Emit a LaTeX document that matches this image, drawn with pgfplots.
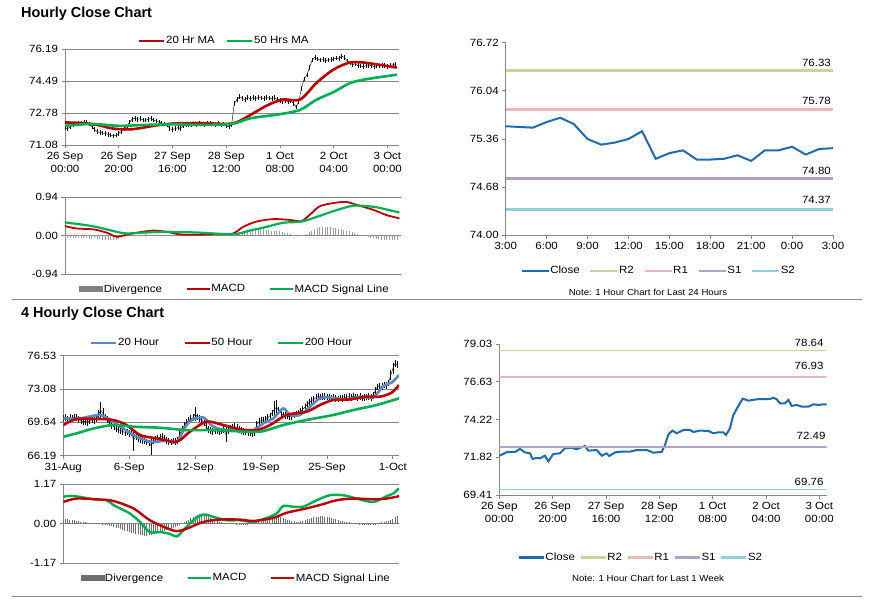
\documentclass[border=0pt]{standalone}
\usepackage{fontspec}
\setmainfont{Liberation Sans}[FakeStretch=1.1]
\newfontfamily\titlefont{Liberation Sans}
\usepackage{pgfplots}
\pgfplotsset{compat=1.18}

\definecolor{axgray}{HTML}{868686}
\definecolor{mared}{HTML}{C00000}
\definecolor{magreen}{HTML}{00B050}
\definecolor{mablue}{HTML}{5A8AC6}
\definecolor{closeblue}{HTML}{1F6BB0}
\definecolor{rtwo}{HTML}{C3D69B}
\definecolor{rone}{HTML}{E6B9B8}
\definecolor{sone}{HTML}{B3A2C7}
\definecolor{stwo}{HTML}{93CDDD}
\definecolor{divlight}{HTML}{A0A0A0}
\definecolor{divdark}{HTML}{6E6E6E}

\newcommand\tk{\fontsize{10.5}{13}\selectfont}
\newcommand\nt{\fontsize{8.8}{10}\selectfont}

\pgfplotsset{
  panel/.style={
    scale only axis, anchor=south west, clip mode=individual,
    axis x line*=bottom, axis y line*=left,
    xtick pos=left, ytick pos=left,
    axis line style={axgray, line width=0.8bp},
    every tick/.style={axgray, line width=0.8bp},
    tick align=outside, major tick length=3.5bp,
    grid style={axgray, line width=0.7bp},
    ticklabel style={font=\tk},
    xticklabel style={align=center},
    legend style={draw=none, fill=none, font=\tk, inner sep=0pt, anchor=center,
      nodes={inner xsep=0.5bp, inner ysep=1bp}},
    legend columns=-1,
    legend cell align=left,
  },
  lineleg/.style={legend image code/.code={\draw[##1, line width=2.4bp] (0bp,0bp) -- (#1,0bp);}},
  colsep/.style={legend style={/tikz/every even column/.append style={column sep=#1}}},
}

\begin{document}
\begin{tikzpicture}
\useasboundingbox (0,0) rectangle (873bp,601bp);

% titles and separators
\node[anchor=base west, inner sep=0pt, font=\titlefont\fontsize{14.5}{16}\selectfont\bfseries] at (21bp,583.5bp) {Hourly Close Chart};
\node[anchor=base west, inner sep=0pt, font=\titlefont\fontsize{14.5}{16}\selectfont\bfseries] at (21bp,283.3bp) {4 Hourly Close Chart};
\draw[axgray, line width=1bp] (12bp,301bp) -- (862bp,301bp);
\draw[axgray, line width=1bp] (12bp,4bp) -- (862bp,4bp);

% ---------- hourly close, 20/50 MA ----------
\begin{axis}[panel, at={(65bp,456bp)}, width=334bp, height=96bp,
  xmin=0, xmax=124.3, ymin=71.08, ymax=76.19,
  xtick={0,20,...,120},
  xticklabels={{26 Sep\\00:00},{26 Sep\\20:00},{27 Sep\\16:00},{28 Sep\\12:00},{1 Oct\\08:00},{2 Oct\\04:00},{3 Oct\\00:00}},
  ytick={71.08,72.78,74.49,76.19}, yticklabels={71.08,72.78,74.49,76.19},
  ymajorgrids,
  lineleg=25bp, colsep=11bp,
  legend style={at={(0.475,1.083)}},
]
\addplot[black, line width=0.4bp, forget plot,
  error bars/.cd, y dir=both, y fixed=0.12, error mark=none,
  error bar style={black, line width=0.6bp}] coordinates {
(0,72.00) (1,71.95) (2,72.05) (3,72.15) (4,72.20) (5,72.25) (6,72.22) (7,72.28) (8,72.30) (9,72.20)
(10,72.05) (11,71.90) (12,71.80) (13,71.75) (14,71.72) (15,71.70) (16,71.65) (17,71.60) (18,71.55) (19,71.60)
(20,71.70) (21,71.80) (22,71.95) (23,72.05) (24,72.30) (25,72.45) (26,72.50) (27,72.45) (28,72.48) (29,72.42)
(30,72.40) (31,72.45) (32,72.50) (33,72.40) (34,72.35) (35,72.30) (36,72.25) (37,72.20) (38,72.15) (39,71.95)
(40,71.90) (41,71.95) (42,72.00) (43,71.95) (44,72.10) (45,72.15) (46,72.18) (47,72.15) (48,72.20) (49,72.18)
(50,72.22) (51,72.20) (52,72.15) (53,72.22) (54,72.25) (55,72.20) (56,72.18) (57,72.22) (58,72.15) (59,72.20)
(60,72.10) (61,72.05) (62,72.15) (63,73.30) (64,73.50) (65,73.65) (66,73.55) (67,73.50) (68,73.60) (69,73.55)
(70,73.60) (71,73.55) (72,73.62) (73,73.58) (74,73.55) (75,73.60) (76,73.58) (77,73.55) (78,73.60) (79,73.50)
(80,73.45) (81,73.40) (82,73.45) (83,73.38) (84,73.42) (85,73.30) (86,73.10) (87,73.40) (88,74.10) (89,74.60)
(90,74.80) (91,75.20) (92,75.60) (93,75.75) (94,75.65) (95,75.60) (96,75.62) (97,75.58) (98,75.60) (99,75.62)
(100,75.65) (101,75.70) (102,75.68) (103,75.80) (104,75.75) (105,75.55) (106,75.45) (107,75.35) (108,75.40) (109,75.30)
(110,75.28) (111,75.25) (112,75.30) (113,75.28) (114,75.32) (115,75.25) (116,75.30) (117,75.28) (118,75.32) (119,75.30)
(120,75.25) (121,75.32) (122,75.35) (123,75.40)
};
\addplot[mared, line width=2.6bp, smooth] coordinates {
(0,72.28) (6,72.25) (12,72.15) (18,71.95) (25,71.92) (33,72.10) (40,72.22) (50,72.25) (62,72.22)
(68,72.60) (75,73.17) (81,73.50) (87.5,73.50) (93.7,74.40) (100,75.10) (106,75.47) (111,75.47) (117,75.35) (123.5,75.20)
};
\addplot[magreen, line width=2.6bp, smooth] coordinates {
(0,72.10) (10,72.20) (20,72.10) (30,72.15) (40,72.18) (50,72.15) (62,72.20) (69,72.50) (80,72.72)
(87.5,72.95) (93.7,73.50) (100,73.90) (106,74.37) (112,74.58) (123.5,74.82)
};
\legend{20 Hr MA, 50 Hrs MA}
\end{axis}

% ---------- hourly MACD ----------
\begin{axis}[panel, at={(65bp,327bp)}, width=336bp, height=77bp,
  xmin=0, xmax=125.3, ymin=-0.94, ymax=0.94,
  xtick=\empty,
  ytick={-0.94,0,0.94}, yticklabels={-0.94,0.00,0.94},
  ymajorgrids,
  lineleg=23bp, colsep=23bp,
  legend style={at={(0.504,-0.195)}},
]
\addplot[ycomb, divlight, line width=0.8bp,
  legend image code/.code={\fill[gray] (0bp,-2.8bp) rectangle (23bp,2.8bp);}] coordinates {
(0,-0.06) (1,-0.07) (2,-0.07) (3,-0.06) (4,-0.07) (5,-0.07) (6,-0.06) (7,-0.07) (8,-0.07) (9,-0.08)
(10,-0.08) (11,-0.07) (12,-0.08) (13,-0.09) (14,-0.10) (15,-0.10) (16,-0.11) (17,-0.11) (18,-0.12) (19,-0.11)
(20,-0.08) (21,-0.05) (22,-0.03) (23,-0.02) (24,-0.01) (25,0.01) (26,0.01) (27,0.02) (28,0.02) (29,0.02)
(30,0.03) (31,0.02) (32,0.02) (33,0.01) (34,0.01) (35,0.01) (36,0.00) (37,0.00) (38,-0.01) (39,-0.01)
(40,-0.02) (41,-0.02) (42,-0.02) (43,-0.01) (44,-0.01) (45,-0.01) (46,-0.01) (47,-0.01) (48,-0.01) (49,-0.01)
(50,-0.02) (51,-0.01) (52,-0.01) (53,-0.01) (54,-0.01) (55,-0.01) (56,-0.01) (57,-0.01) (58,-0.01) (59,-0.01)
(60,-0.01) (61,-0.01) (62,0.00) (63,0.01) (64,0.03) (65,0.06) (66,0.09) (67,0.11) (68,0.13) (69,0.14)
(70,0.15) (71,0.16) (72,0.16) (73,0.15) (74,0.15) (75,0.14) (76,0.13) (77,0.12) (78,0.12) (79,0.11)
(80,0.10) (81,0.08) (82,0.07) (83,0.05) (84,0.04) (85,0.02) (86,0.01) (87,0.00) (88,-0.01) (89,0.01)
(90,0.04) (91,0.08) (92,0.12) (93,0.16) (94,0.19) (95,0.20) (96,0.21) (97,0.21) (98,0.21) (99,0.20)
(100,0.19) (101,0.18) (102,0.17) (103,0.16) (104,0.14) (105,0.12) (106,0.10) (107,0.08) (108,0.06) (109,0.04)
(110,0.02) (111,0.00) (112,-0.02) (113,-0.03) (114,-0.05) (115,-0.06) (116,-0.08) (117,-0.09) (118,-0.10) (119,-0.11)
(120,-0.11) (121,-0.12) (122,-0.12) (123,-0.12) (124,-0.12)
};
\addplot[mared, line width=1.8bp, smooth] coordinates {
(0,0.23) (4.3,0.17) (10.5,0.15) (15.5,0.07) (19.2,-0.03) (23,0.02) (27.9,0.08) (32.9,0.12) (37.9,0.09)
(44,0.02) (56.5,0.03) (62.7,0.05) (66.4,0.21) (71.4,0.34) (77.6,0.40) (83.8,0.38) (88.1,0.35) (91.2,0.50)
(94.9,0.71) (99.9,0.79) (104.9,0.82) (108.6,0.75) (114.8,0.63) (119.8,0.50) (124.7,0.42)
};
\addplot[magreen, line width=2.2bp, smooth] coordinates {
(0,0.32) (8.1,0.25) (13,0.19) (19.2,0.09) (23,0.05) (29.1,0.07) (37.9,0.09) (50.3,0.07) (62.7,0.03)
(68.9,0.12) (75.1,0.21) (81.3,0.31) (88.1,0.34) (93.7,0.45) (99.9,0.59) (106.1,0.71) (109.8,0.73) (116.1,0.69) (124.7,0.56)
};
\legend{Divergence, MACD, MACD Signal Line}
\end{axis}

% ---------- last 24 hours ----------
\begin{axis}[panel, at={(505.7bp,365.7bp)}, width=327.3bp, height=192.6bp,
  xmin=0, xmax=24, ymin=74, ymax=76.72,
  xtick={0,3,...,24}, xticklabels={3:00,6:00,9:00,12:00,15:00,18:00,21:00,0:00,3:00},
  ytick={74,74.68,75.36,76.04,76.72}, yticklabels={74.00,74.68,75.36,76.04,76.72},
  lineleg=27bp, colsep=9bp,
  legend style={at={(0.465,-0.185)}},
]
\addplot[closeblue, line width=2bp] coordinates {
(0,75.54) (1,75.53) (2,75.52) (3,75.60) (4,75.66) (5,75.57) (6,75.36) (7,75.28) (8,75.31) (9,75.36)
(10,75.47) (11,75.08) (12,75.16) (13,75.20) (14,75.07) (15,75.07) (16,75.08) (17,75.13) (18,75.05) (19,75.20)
(20,75.20) (21,75.25) (22,75.14) (23,75.22) (24,75.23)
};
\addplot[rtwo, line width=3bp] coordinates {(0,76.33) (24,76.33)};
\addplot[rone, line width=3bp] coordinates {(0,75.78) (24,75.78)};
\addplot[sone, line width=3bp] coordinates {(0,74.80) (24,74.80)};
\addplot[stwo, line width=3bp] coordinates {(0,74.37) (24,74.37)};
\node[anchor=south east, font=\tk, inner sep=0pt, xshift=-2bp, yshift=4bp] at (axis cs:24,76.33) {76.33};
\node[anchor=south east, font=\tk, inner sep=0pt, xshift=-2bp, yshift=4bp] at (axis cs:24,75.78) {75.78};
\node[anchor=south east, font=\tk, inner sep=0pt, xshift=-2bp, yshift=4bp] at (axis cs:24,74.80) {74.80};
\node[anchor=south east, font=\tk, inner sep=0pt, xshift=-2bp, yshift=5bp] at (axis cs:24,74.37) {74.37};
\legend{Close, R2, R1, S1, S2}
\end{axis}
\node[font=\nt] at (648bp,309bp) {Note: 1 Hour Chart for Last 24 Hours};

% ---------- 4 hourly close, 20/50/200 ----------
\begin{axis}[panel, at={(63.3bp,145.3bp)}, width=335.7bp, height=100bp,
  xmin=0, xmax=152.8, ymin=66.19, ymax=76.53,
  xtick={0,30,...,150}, xticklabels={31-Aug,6-Sep,12-Sep,19-Sep,25-Sep,1-Oct},
  ytick={66.19,69.64,73.08,76.53}, yticklabels={66.19,69.64,73.08,76.53},
  ymajorgrids,
  lineleg=25bp, colsep=24bp,
  legend style={at={(0.471,1.127)}},
]
\addplot[black, line width=0.4bp, forget plot,
  error bars/.cd, y dir=both, y explicit, error mark=none,
  error bar style={black, line width=0.6bp}] table[x=x, y=y, y error=e] {
x y e
0 70.00 0.35
1 70.10 0.35
2 69.95 0.35
3 70.15 0.35
4 70.05 0.35
5 70.20 0.35
6 70.10 0.35
7 69.90 0.35
8 69.80 0.35
9 69.70 0.35
10 69.75 0.35
11 69.65 0.35
12 69.80 0.35
13 69.90 0.35
14 69.85 0.35
15 70.00 0.35
16 70.40 0.50
17 70.90 0.80
18 70.60 0.50
19 70.20 0.35
20 69.90 0.35
21 69.60 0.35
22 69.30 0.35
23 69.20 0.35
24 69.00 0.35
25 68.90 0.35
26 68.80 0.35
27 68.70 0.35
28 68.60 0.35
29 68.65 0.35
30 68.50 0.35
31 68.55 0.35
32 67.80 1.10
33 68.20 0.35
34 68.00 0.35
35 67.90 0.35
36 67.80 0.35
37 67.70 0.35
38 67.60 0.35
39 67.50 0.35
40 67.20 0.90
41 67.70 0.35
42 67.90 0.35
43 68.00 0.35
44 68.10 0.35
45 68.15 0.35
46 68.00 0.35
47 67.80 0.35
48 67.65 0.35
49 67.60 0.35
50 67.70 0.35
51 67.65 0.35
52 67.80 0.35
53 68.40 0.35
54 68.90 0.35
55 69.30 0.35
56 69.60 0.35
57 69.80 0.35
58 70.00 0.35
59 70.10 0.35
60 70.50 0.70
61 70.20 0.35
62 70.00 0.35
63 69.90 0.35
64 69.60 0.35
65 69.20 0.35
66 68.90 0.35
67 68.80 0.35
68 68.70 0.35
69 68.75 0.35
70 68.80 0.35
71 68.70 0.35
72 68.75 0.35
73 68.90 0.35
74 68.40 0.80
75 68.80 0.35
76 69.00 0.35
77 69.10 0.35
78 69.20 0.35
79 69.10 0.35
80 68.90 0.35
81 68.80 0.35
82 68.70 0.35
83 68.65 0.35
84 68.60 0.35
85 68.55 0.35
86 68.50 0.35
87 68.60 0.35
88 69.40 0.35
89 69.70 0.35
90 69.80 0.35
91 69.85 0.35
92 69.90 0.35
93 70.10 0.35
94 70.30 0.35
95 70.60 0.35
96 71.00 0.80
97 71.20 0.80
98 70.90 0.35
99 70.60 0.35
100 70.40 0.35
101 70.35 0.35
102 70.30 0.35
103 70.20 0.35
104 70.25 0.35
105 70.40 0.35
106 70.50 0.35
107 70.60 0.35
108 70.80 0.35
109 71.00 0.35
110 71.20 0.35
111 71.50 0.35
112 71.70 0.35
113 71.90 0.35
114 72.00 0.35
115 72.20 0.35
116 72.30 0.35
117 72.25 0.35
118 72.30 0.35
119 72.35 0.35
120 72.25 0.35
121 72.20 0.35
122 72.15 0.35
123 72.25 0.35
124 72.10 0.35
125 72.05 0.35
126 72.15 0.35
127 72.10 0.35
128 72.20 0.35
129 72.25 0.35
130 72.30 0.35
131 72.20 0.35
132 72.35 0.35
133 72.25 0.35
134 72.20 0.35
135 72.30 0.35
136 72.15 0.35
137 72.20 0.35
138 72.25 0.35
139 72.30 0.35
140 72.20 0.35
141 72.40 0.35
142 72.90 0.35
143 73.30 0.35
144 73.40 0.35
145 73.35 0.35
146 73.50 0.35
147 73.45 0.35
148 73.70 0.35
149 74.50 0.50
150 75.20 0.60
151 75.70 0.35
152 75.60 0.35
};
\addplot[mablue, line width=2.6bp, smooth] coordinates {
(0,70.05) (7.6,70.05) (16.7,70.40) (21.2,69.88) (27.3,69.00) (31.9,68.33) (39.4,67.64) (47,67.74) (51.6,67.64)
(56.1,69.36) (59.2,69.95) (63.7,70.15) (68.3,69.19) (74.3,68.84) (80.4,68.84) (86.5,68.84) (91,69.53) (95.6,70.05)
(100.1,71.08) (103.2,70.40) (107.7,70.40) (112.3,71.26) (116.8,72.12) (121.4,72.22) (128.9,72.01) (135,72.29)
(141.1,72.22) (145.6,73.39) (149.4,73.74) (152.8,74.53)
};
\addplot[mared, line width=2.6bp, smooth] coordinates {
(0,69.36) (6.1,69.98) (16.7,69.98) (22.8,69.88) (28.8,69.36) (34.9,68.33) (42.5,67.98) (51.6,67.64) (57.6,68.67)
(65.2,69.70) (72.8,69.36) (80.4,68.91) (88,68.84) (94.1,69.36) (101.6,70.40) (110.7,70.74) (116.8,71.43)
(122.9,71.95) (130.4,72.01) (138,72.29) (144.1,72.29) (149.4,72.70) (152.8,73.50)
};
\addplot[magreen, line width=2.6bp, smooth] coordinates {
(0,68.15) (6.1,68.50) (13.7,69.00) (22.8,69.36) (31.9,69.19) (44,69.08) (56.1,68.84) (68.3,68.84) (77.4,68.74)
(89.5,68.67) (100.1,69.36) (110.7,69.88) (122.9,70.40) (132,70.91) (142.6,71.43) (152.8,72.12)
};
\legend{20 Hour, 50 Hour, 200 Hour}
\end{axis}

% ---------- 4 hourly MACD ----------
\begin{axis}[panel, at={(63.3bp,37.7bp)}, width=335.7bp, height=79.3bp,
  xmin=0, xmax=152.8, ymin=-1.17, ymax=1.17,
  xtick=\empty,
  ytick={-1.17,0,1.17}, yticklabels={-1.17,0.00,1.17},
  ymajorgrids,
  lineleg=23bp, colsep=23bp,
  legend style={at={(0.513,-0.185)}},
]
\addplot[ycomb, divdark, line width=0.8bp,
  legend image code/.code={\fill[divdark] (0bp,-2.8bp) rectangle (23bp,2.8bp);}] coordinates {
(0,0.15) (1,0.14) (2,0.13) (3,0.12) (4,0.11) (5,0.10) (6,0.09) (7,0.08) (8,0.06) (9,0.05)
(10,0.04) (11,0.03) (12,0.03) (13,0.02) (14,0.02) (15,0.01) (16,0.01) (17,0.00) (18,-0.01) (19,-0.02)
(20,-0.04) (21,-0.06) (22,-0.08) (23,-0.10) (24,-0.12) (25,-0.14) (26,-0.17) (27,-0.19) (28,-0.21) (29,-0.23)
(30,-0.25) (31,-0.27) (32,-0.29) (33,-0.30) (34,-0.31) (35,-0.33) (36,-0.34) (37,-0.35) (38,-0.35) (39,-0.34)
(40,-0.33) (41,-0.31) (42,-0.29) (43,-0.27) (44,-0.25) (45,-0.23) (46,-0.21) (47,-0.19) (48,-0.17) (49,-0.15)
(50,-0.12) (51,-0.10) (52,-0.07) (53,-0.04) (54,0.00) (55,0.04) (56,0.08) (57,0.12) (58,0.16) (59,0.20)
(60,0.23) (61,0.25) (62,0.27) (63,0.27) (64,0.26) (65,0.24) (66,0.21) (67,0.17) (68,0.13) (69,0.09)
(70,0.07) (71,0.05) (72,0.04) (73,0.03) (74,0.02) (75,0.02) (76,0.01) (77,0.01) (78,0.00) (79,-0.01)
(80,-0.02) (81,-0.03) (82,-0.03) (83,-0.02) (84,-0.01) (85,0.01) (86,0.03) (87,0.05) (88,0.07) (89,0.09)
(90,0.11) (91,0.13) (92,0.15) (93,0.17) (94,0.19) (95,0.20) (96,0.21) (97,0.22) (98,0.21) (99,0.20)
(100,0.18) (101,0.15) (102,0.12) (103,0.10) (104,0.08) (105,0.07) (106,0.06) (107,0.06) (108,0.07) (109,0.09)
(110,0.11) (111,0.13) (112,0.15) (113,0.17) (114,0.19) (115,0.20) (116,0.21) (117,0.22) (118,0.22) (119,0.21)
(120,0.20) (121,0.19) (122,0.17) (123,0.15) (124,0.13) (125,0.11) (126,0.09) (127,0.07) (128,0.06) (129,0.05)
(130,0.04) (131,0.03) (132,0.02) (133,0.01) (134,0.00) (135,-0.01) (136,-0.02) (137,-0.03) (138,-0.04) (139,-0.05)
(140,-0.04) (141,-0.03) (142,-0.01) (143,0.01) (144,0.03) (145,0.05) (146,0.06) (147,0.07) (148,0.08) (149,0.10)
(150,0.14) (151,0.19) (152,0.24)
};
\addplot[magreen, line width=2.4bp, smooth] coordinates {
(0,0.79) (3,0.82) (7.6,0.79) (13.7,0.72) (19.7,0.69) (22.8,0.55) (25.8,0.45) (30.3,0.30) (34.9,0.05) (39.4,-0.25)
(44,-0.25) (48.5,-0.30) (51.6,-0.38) (54.6,-0.20) (59.2,0.10) (63.7,0.27) (68.3,0.20) (74.3,0.10) (80.4,0.10)
(86.5,0.05) (92.5,0.17) (97.1,0.30) (100.1,0.52) (104.7,0.50) (109.2,0.50) (115.3,0.69) (121.4,0.84) (127.4,0.84)
(133.5,0.74) (141.1,0.64) (147.2,0.81) (150.2,0.89) (152.8,1.04)
};
\addplot[mared, line width=2.4bp, smooth] coordinates {
(0,0.64) (6.1,0.74) (16.7,0.71) (22.8,0.67) (31.9,0.45) (39.4,0.10) (47,-0.13) (51.6,-0.22) (56.1,-0.15)
(63.7,0.05) (71.3,0.12) (80.4,0.12) (86.5,0.08) (95.6,0.17) (101.6,0.32) (110.7,0.45) (116.8,0.55) (124.4,0.69)
(132,0.74) (141.1,0.72) (147.2,0.74) (152.8,0.81)
};
\legend{Divergence, MACD, MACD Signal Line}
\end{axis}

% ---------- last week, hourly ----------
\begin{axis}[panel, at={(499.3bp,106bp)}, width=327.4bp, height=150.7bp,
  xmin=0, xmax=122.75, ymin=69.41, ymax=79.03,
  xtick={0,20,...,120},
  xticklabels={{26 Sep\\00:00},{26 Sep\\20:00},{27 Sep\\16:00},{28 Sep\\12:00},{1 Oct\\08:00},{2 Oct\\04:00},{3 Oct\\00:00}},
  ytick={69.41,71.82,74.22,76.63,79.03}, yticklabels={69.41,71.82,74.22,76.63,79.03},
  lineleg=25bp, colsep=4bp,
  legend style={at={(0.43,-0.416)}},
]
\addplot[closeblue, line width=2bp] coordinates {
(0,71.92) (1.5,72.03) (3,72.16) (5.9,72.16) (7.75,72.35) (9.6,72.13) (11.5,72.07) (12.5,71.71) (14,71.78)
(15.25,71.75) (17.1,71.92) (18.4,71.56) (20.25,72.03) (22.75,72.07) (24.6,72.39) (27.1,72.43) (29,72.33)
(32.1,72.54) (33.4,72.24) (36.5,72.28) (38.4,71.92) (40.25,72.07) (41.25,71.90) (43.4,72.13) (45.9,72.18)
(49,72.18) (51.5,72.28) (55.25,72.28) (57.75,72.11) (60.9,72.16) (62.1,72.60) (63.4,73.28) (64.9,73.52)
(66.5,73.35) (69,73.56) (71.5,73.56) (72.75,73.43) (75.25,73.52) (78.4,73.50) (80.25,73.35) (82.1,73.41)
(84,73.41) (85,73.24) (86.5,73.67) (87.75,74.52) (89.6,75.09) (91.25,75.56) (93.4,75.43) (96.5,75.52)
(101.5,75.54) (102.75,75.62) (104,75.52) (105.25,75.26) (107.1,75.26) (108.4,75.48) (109.6,75.09)
(111.5,75.16) (113.4,75.05) (115.9,75.05) (117.75,75.20) (119.6,75.16) (121.5,75.20) (122.75,75.20)
};
\addplot[rtwo, line width=1.6bp] coordinates {(0,78.64) (122.75,78.64)};
\addplot[rone, line width=1.6bp] coordinates {(0,76.93) (122.75,76.93)};
\addplot[sone, line width=1.6bp] coordinates {(0,72.49) (122.75,72.49)};
\addplot[stwo, line width=1.6bp] coordinates {(0,69.76) (122.75,69.76)};
\node[anchor=south east, font=\tk, inner sep=0pt, xshift=-3bp, yshift=4bp] at (axis cs:122.75,78.64) {78.64};
\node[anchor=south east, font=\tk, inner sep=0pt, xshift=-3bp, yshift=7bp] at (axis cs:122.75,76.93) {76.93};
\node[anchor=south east, font=\tk, inner sep=0pt, xshift=-1bp, yshift=7bp] at (axis cs:122.75,72.49) {72.49};
\node[anchor=south east, font=\tk, inner sep=0pt, xshift=-3bp, yshift=4bp] at (axis cs:122.75,69.76) {69.76};
\legend{Close, R2, R1, S1, S2}
\end{axis}
\node[font=\nt] at (648bp,23bp) {Note: 1 Hour Chart for Last 1 Week};

\end{tikzpicture}
\end{document}
